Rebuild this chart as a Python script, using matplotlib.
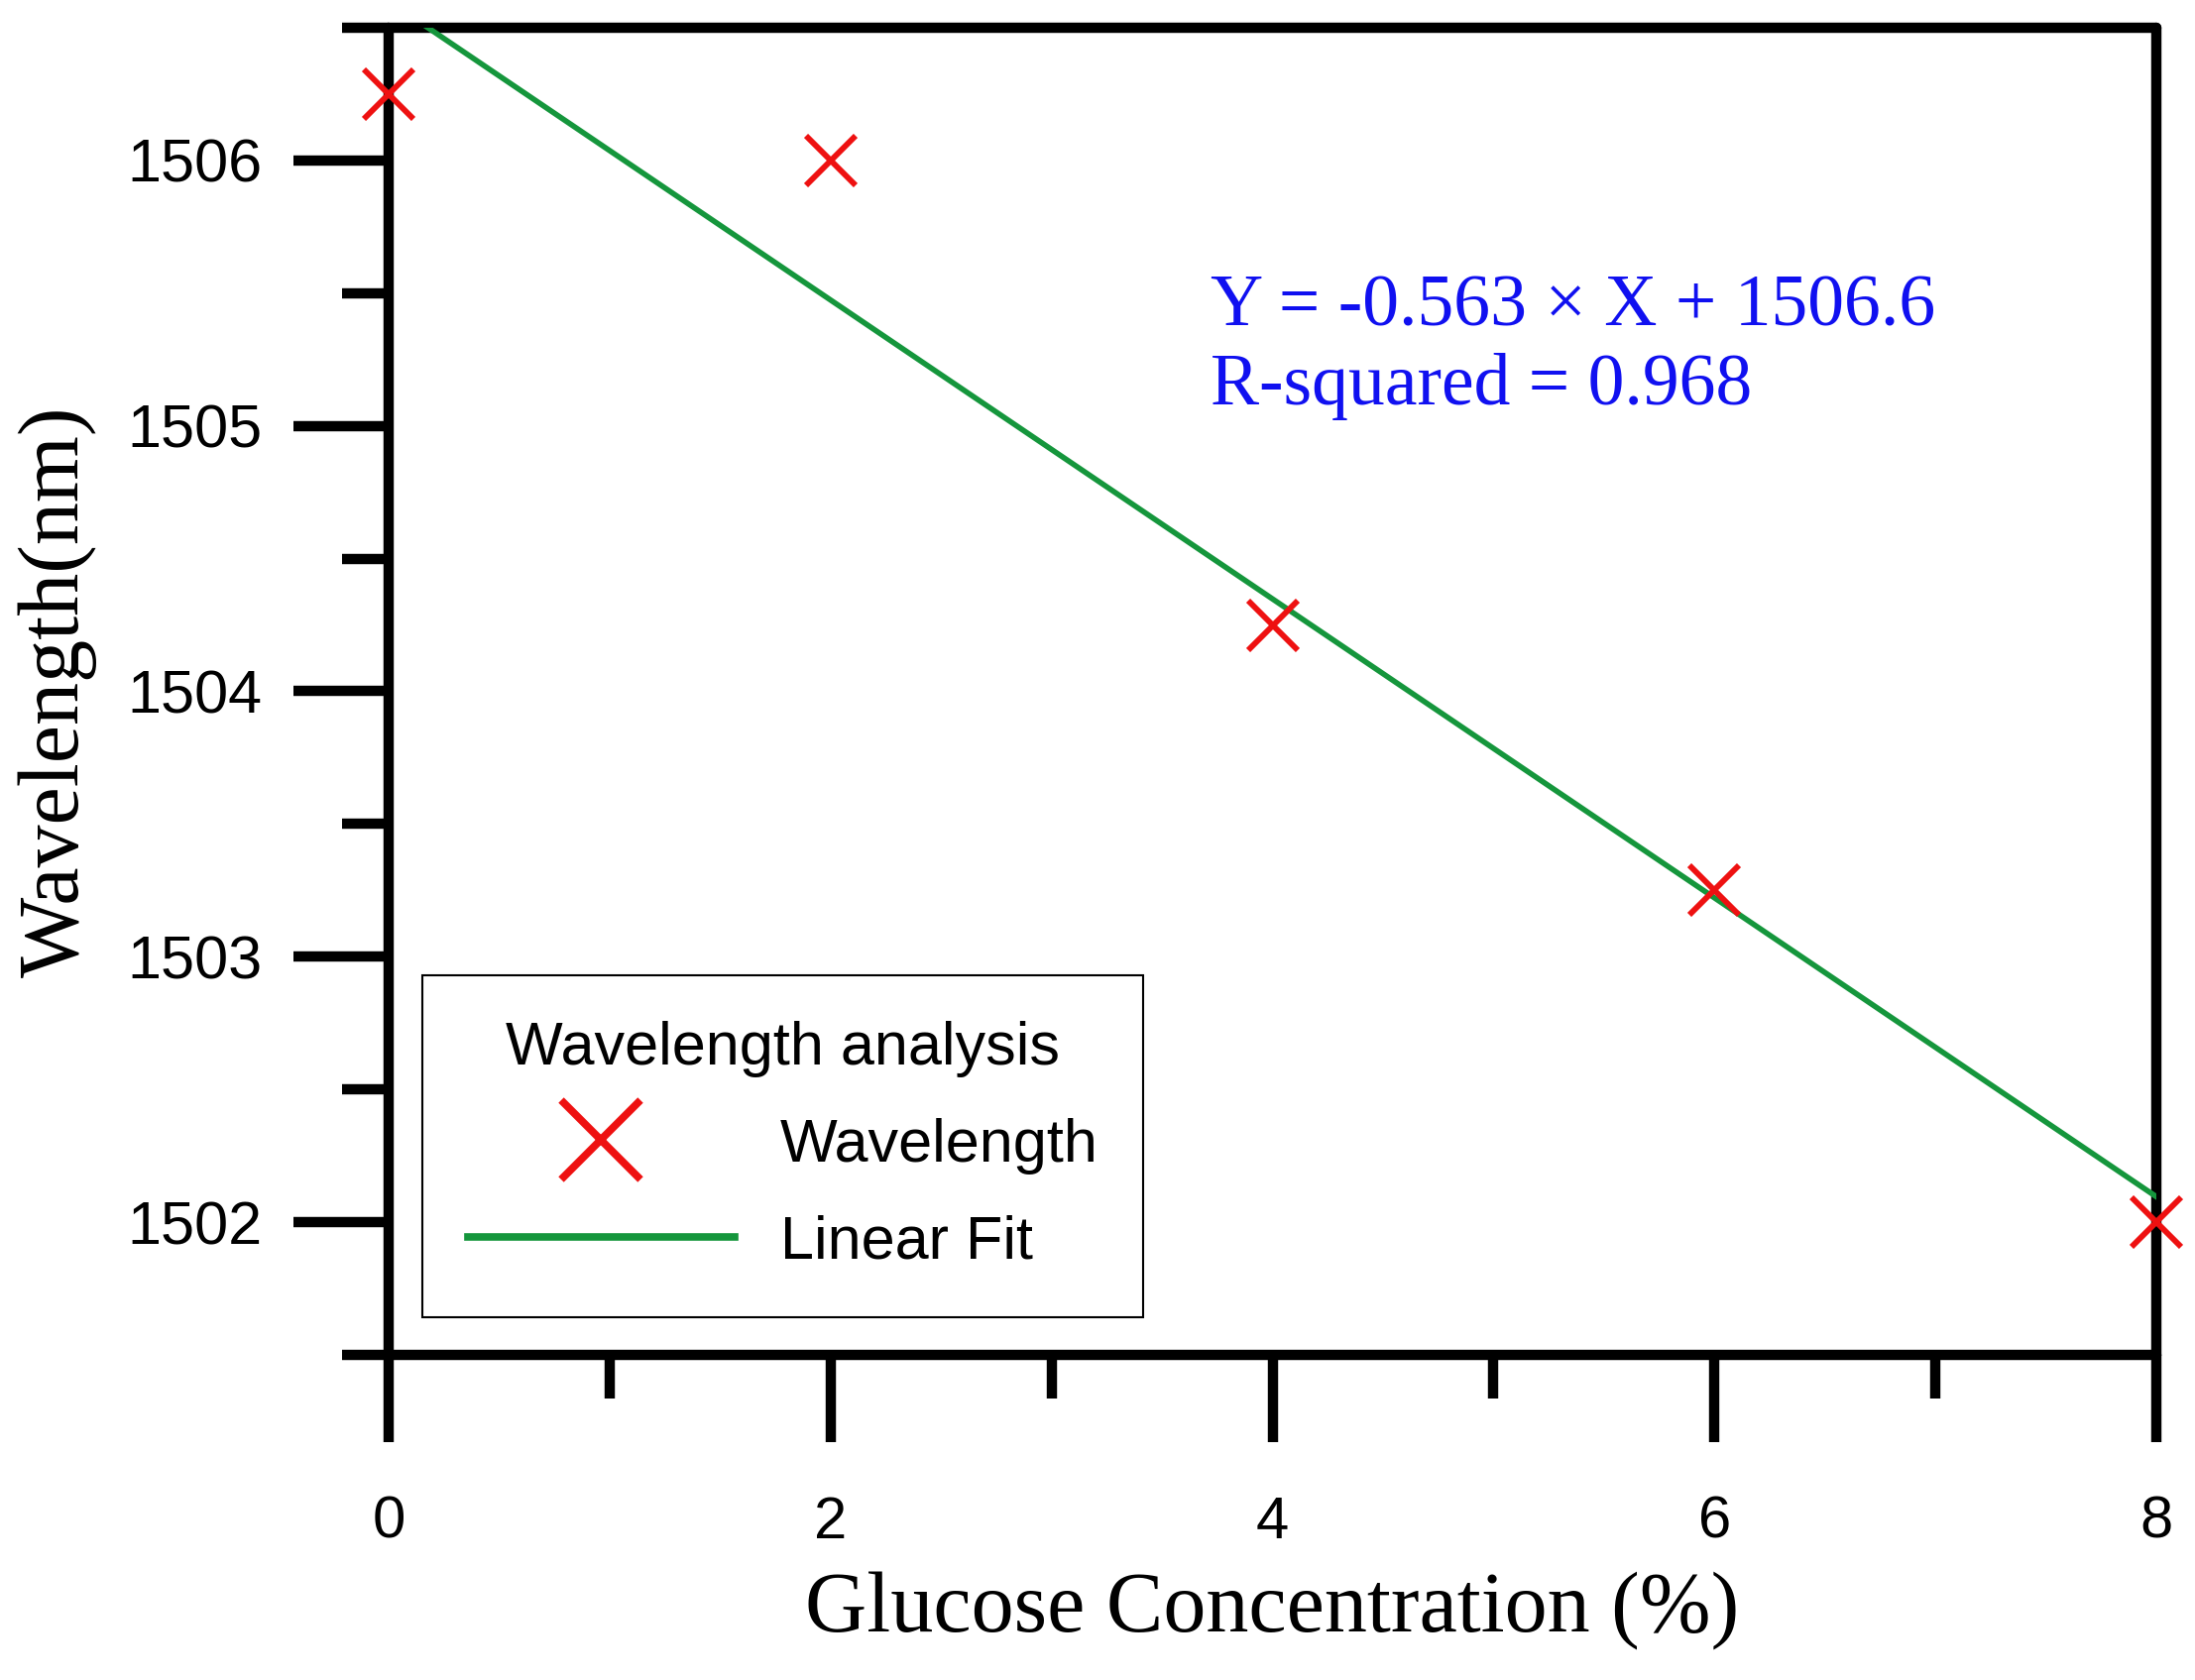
import matplotlib
matplotlib.use("Agg")
import matplotlib.pyplot as plt
from matplotlib.ticker import MultipleLocator
import numpy as np

# ---- data ----
concentration = [0, 2, 4, 6, 8]
wavelength = [1506.25, 1506.0, 1504.25, 1503.25, 1502.0]
fit_slope = -0.563
fit_intercept = 1506.6
r_squared = 0.968
x_ticks = [0, 2, 4, 6, 8]
y_ticks = [1502, 1503, 1504, 1505, 1506]

RED = "#ee1111"
GREEN = "#15963c"
BLUE = "#1010f0"
SANS = ["Liberation Sans", "DejaVu Sans"]
SERIF = ["Liberation Serif", "DejaVu Serif"]

fig = plt.figure(figsize=(22.14, 16.95), dpi=100)
ax = fig.add_axes([0.1771, 0.1935, 0.8053, 0.790])

fit_x = np.array([concentration[0], concentration[-1]], dtype=float)
fit_y = fit_slope * fit_x + fit_intercept
ax.plot(fit_x, fit_y, color=GREEN, lw=4, label="Linear Fit", zorder=3)
ax.plot(concentration, wavelength, ls="none", marker="x", ms=36, mew=4.2,
        color=RED, label="Wavelength", clip_on=False, zorder=5)

ax.set_xlim(0, 8)
ax.set_ylim(1501.5, 1506.5)
ax.set_xticks(x_ticks)
ax.set_yticks(y_ticks)
ax.xaxis.set_minor_locator(MultipleLocator(1))
ax.yaxis.set_minor_locator(MultipleLocator(0.5))

for s in ax.spines.values():
    s.set_linewidth(7.5)
    s.set_capstyle("round")

ax.tick_params(axis="x", which="major", direction="out", length=63, width=7.5,
               pad=39, labelsize=43)
ax.tick_params(axis="x", which="minor", direction="out", length=32, width=7.5)
ax.tick_params(axis="y", which="major", direction="out", length=69, width=7.5,
               pad=23, labelsize=44)
ax.tick_params(axis="y", which="minor", direction="out", length=34, width=7.5)
for lab in ax.get_xticklabels() + ax.get_yticklabels():
    lab.set_family(SANS)

ax.set_xlabel("Glucose Concentration (%)", family=SERIF, fontsize=62, labelpad=16)
ax.set_ylabel("Wavelength(nm)", family=SERIF, fontsize=62, labelpad=22)

ax.text(3.72, 1505.08,
        f"Y = {fit_slope} × X + {fit_intercept}\nR-squared = {r_squared}",
        family=SERIF, fontsize=53, color=BLUE, va="baseline", ha="left",
        linespacing=1.22)

handles, labels = ax.get_legend_handles_labels()
leg = ax.legend(handles[::-1], labels[::-1], title="Wavelength analysis",
                loc="upper left", bbox_to_anchor=(0.019, 0.286),
                borderaxespad=0, fancybox=False, framealpha=1,
                edgecolor="black", prop={"family": SANS, "size": 44},
                title_fontproperties={"family": SANS, "size": 44},
                handlelength=4.4, handletextpad=0.75, labelspacing=0.67,
                borderpad=0.75)
leg.get_frame().set_linewidth(1.5)
lh = leg.legend_handles
lh[0].set_markersize(58)
lh[0].set_markeredgewidth(5.5)
lh[1].set_linewidth(5.5)

fig.savefig("out.png", dpi=100)
